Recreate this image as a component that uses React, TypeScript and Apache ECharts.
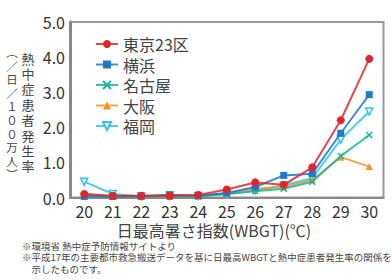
import React, { useEffect, useRef } from "react";
import * as echarts from "echarts";

const categories = ["20", "21", "22", "23", "24", "25", "26", "27", "28", "29", "30"];
const seriesNames = ["東京23区", "横浜", "名古屋", "大阪", "福岡"];
const tokyo = [0.1, 0.05, 0.05, 0.05, 0.07, 0.23, 0.43, 0.36, 0.86, 2.2, 3.95];
const yokohama = [0.03, 0.03, 0.04, 0.08, 0.05, 0.13, 0.3, 0.63, 0.68, 1.83, 2.93];
const nagoya = [0.06, 0.02, 0.02, 0.03, 0.03, 0.1, 0.18, 0.25, 0.45, 1.18, 1.78];
const osaka = [0.1, 0.03, 0.03, 0.03, 0.05, 0.12, 0.25, 0.3, 0.5, 1.15, 0.88];
const fukuoka = [0.45, 0.1, 0.03, 0.05, 0.04, 0.1, 0.2, 0.35, 0.55, 1.65, 2.45];
const yTicks = [0, 1, 2, 3, 4, 5];
const xTitle = "日最高暑さ指数(WBGT)(℃)";
const yTitleRight = ["熱", "中", "症", "患", "者", "発", "生", "率"];
const yTitleLeft = ["︵", "／", "日", "／", "１", "０", "０", "万", "人", "︶"];
const notes = [
  "※環境省 熱中症予防情報サイトより",
  "※平成17年の主要都市救急搬送データを基に日最高WBGTと熱中症患者発生率の関係を",
  "　示したものです。",
];

const FONT = '"Noto Sans CJK JP", "Noto Sans", sans-serif';

export default function App() {
  const ref = useRef<HTMLDivElement>(null);
  useEffect(() => {
    if (!ref.current) return;
    const chart = echarts.init(ref.current, undefined, { renderer: "svg" });
    const colors = ["#e0262c", "#1f78c8", "#1bb39a", "#f7941d", "#2ec4ee"];
    const symbols = ["circle", "rect", "path://M0,0L10,10M10,0L0,10", "triangle", "path://M0,0L10,0L5,9Z"];
    const dataArr = [tokyo, yokohama, nagoya, osaka, fukuoka];
    const series = seriesNames.map((name, i) => ({
      name,
      type: "line",
      data: dataArr[i],
      z: 10 - i,
      symbol: symbols[i],
      symbolSize: i === 0 ? 8 : i === 2 ? 6 : 7,
      lineStyle: { width: 2, color: colors[i], opacity: 0.85 },
      itemStyle:
        i === 4
          ? { color: "#ffffff", borderColor: colors[i], borderWidth: 1.5 }
          : i === 2
          ? { color: colors[i], borderColor: colors[i], borderWidth: 1.5 }
          : { color: colors[i] },
      emphasis: { disabled: true },
    }));
    const rightCol = yTitleRight.map((c, i) => ({
      type: "text",
      x: 28,
      y: 58 + i * 15.4,
      style: {
        text: c,
        fontSize: 13,
        lineHeight: 13,
        fill: "#444",
        fontFamily: FONT,
        align: "center",
        verticalAlign: "middle",
      },
    }));
    const leftCol = yTitleLeft.map((c, i) => ({
      type: "text",
      x: 12,
      y: 52 + i * 13.6,
      style: {
        text: c,
        fontSize: 11.5,
        lineHeight: 11.5,
        fill: "#444",
        fontFamily: FONT,
        align: "center",
        verticalAlign: "middle",
      },
    }));
    chart.setOption({
      animation: false,
      textStyle: { fontFamily: FONT },
      grid: {
        left: 70,
        right: 8.5,
        top: 22,
        bottom: 82.5,
        show: true,
        borderColor: "#999",
        borderWidth: 2,
      },
      legend: {
        data: seriesNames,
        orient: "vertical",
        left: 90,
        top: 31,
        itemWidth: 22,
        itemHeight: 10,
        itemGap: 4.5,
        textStyle: { fontSize: 16, color: "#444", fontFamily: FONT },
      },
      xAxis: {
        type: "category",
        data: categories,
        boundaryGap: true,
        axisLine: { lineStyle: { color: "#888", width: 2 } },
        axisTick: { inside: true, length: 4, lineStyle: { color: "#999" } },
        axisLabel: { fontSize: 16, lineHeight: 16, color: "#333", margin: 5, fontFamily: FONT },
      },
      yAxis: {
        type: "value",
        min: yTicks[0],
        max: yTicks[yTicks.length - 1],
        interval: 1,
        splitLine: { show: false },
        axisLine: { show: true, lineStyle: { color: "#888", width: 3 } },
        axisTick: { show: false },
        axisLabel: {
          fontSize: 16,
          color: "#333",
          margin: 5,
          fontFamily: FONT,
          formatter: (v: number) => v.toFixed(1),
        },
      },
      graphic: [
        {
          type: "text",
          x: 214,
          y: 230,
          style: {
            text: xTitle,
            fontSize: 16,
            lineHeight: 16,
            fill: "#444",
            fontFamily: FONT,
            align: "center",
            verticalAlign: "middle",
          },
        },
        ...rightCol,
        ...leftCol,
        ...notes.map((t, i) => ({
          type: "text",
          left: 22,
          top: 241 + i * 11.5,
          style: { text: t, fontSize: 9.5, fill: "#444", fontFamily: FONT },
        })),
      ],
      series,
    });
    return () => chart.dispose();
  }, []);
  return <div ref={ref} style={{ width: 392, height: 280, position: "absolute", left: 0, top: 0 }} />;
}
